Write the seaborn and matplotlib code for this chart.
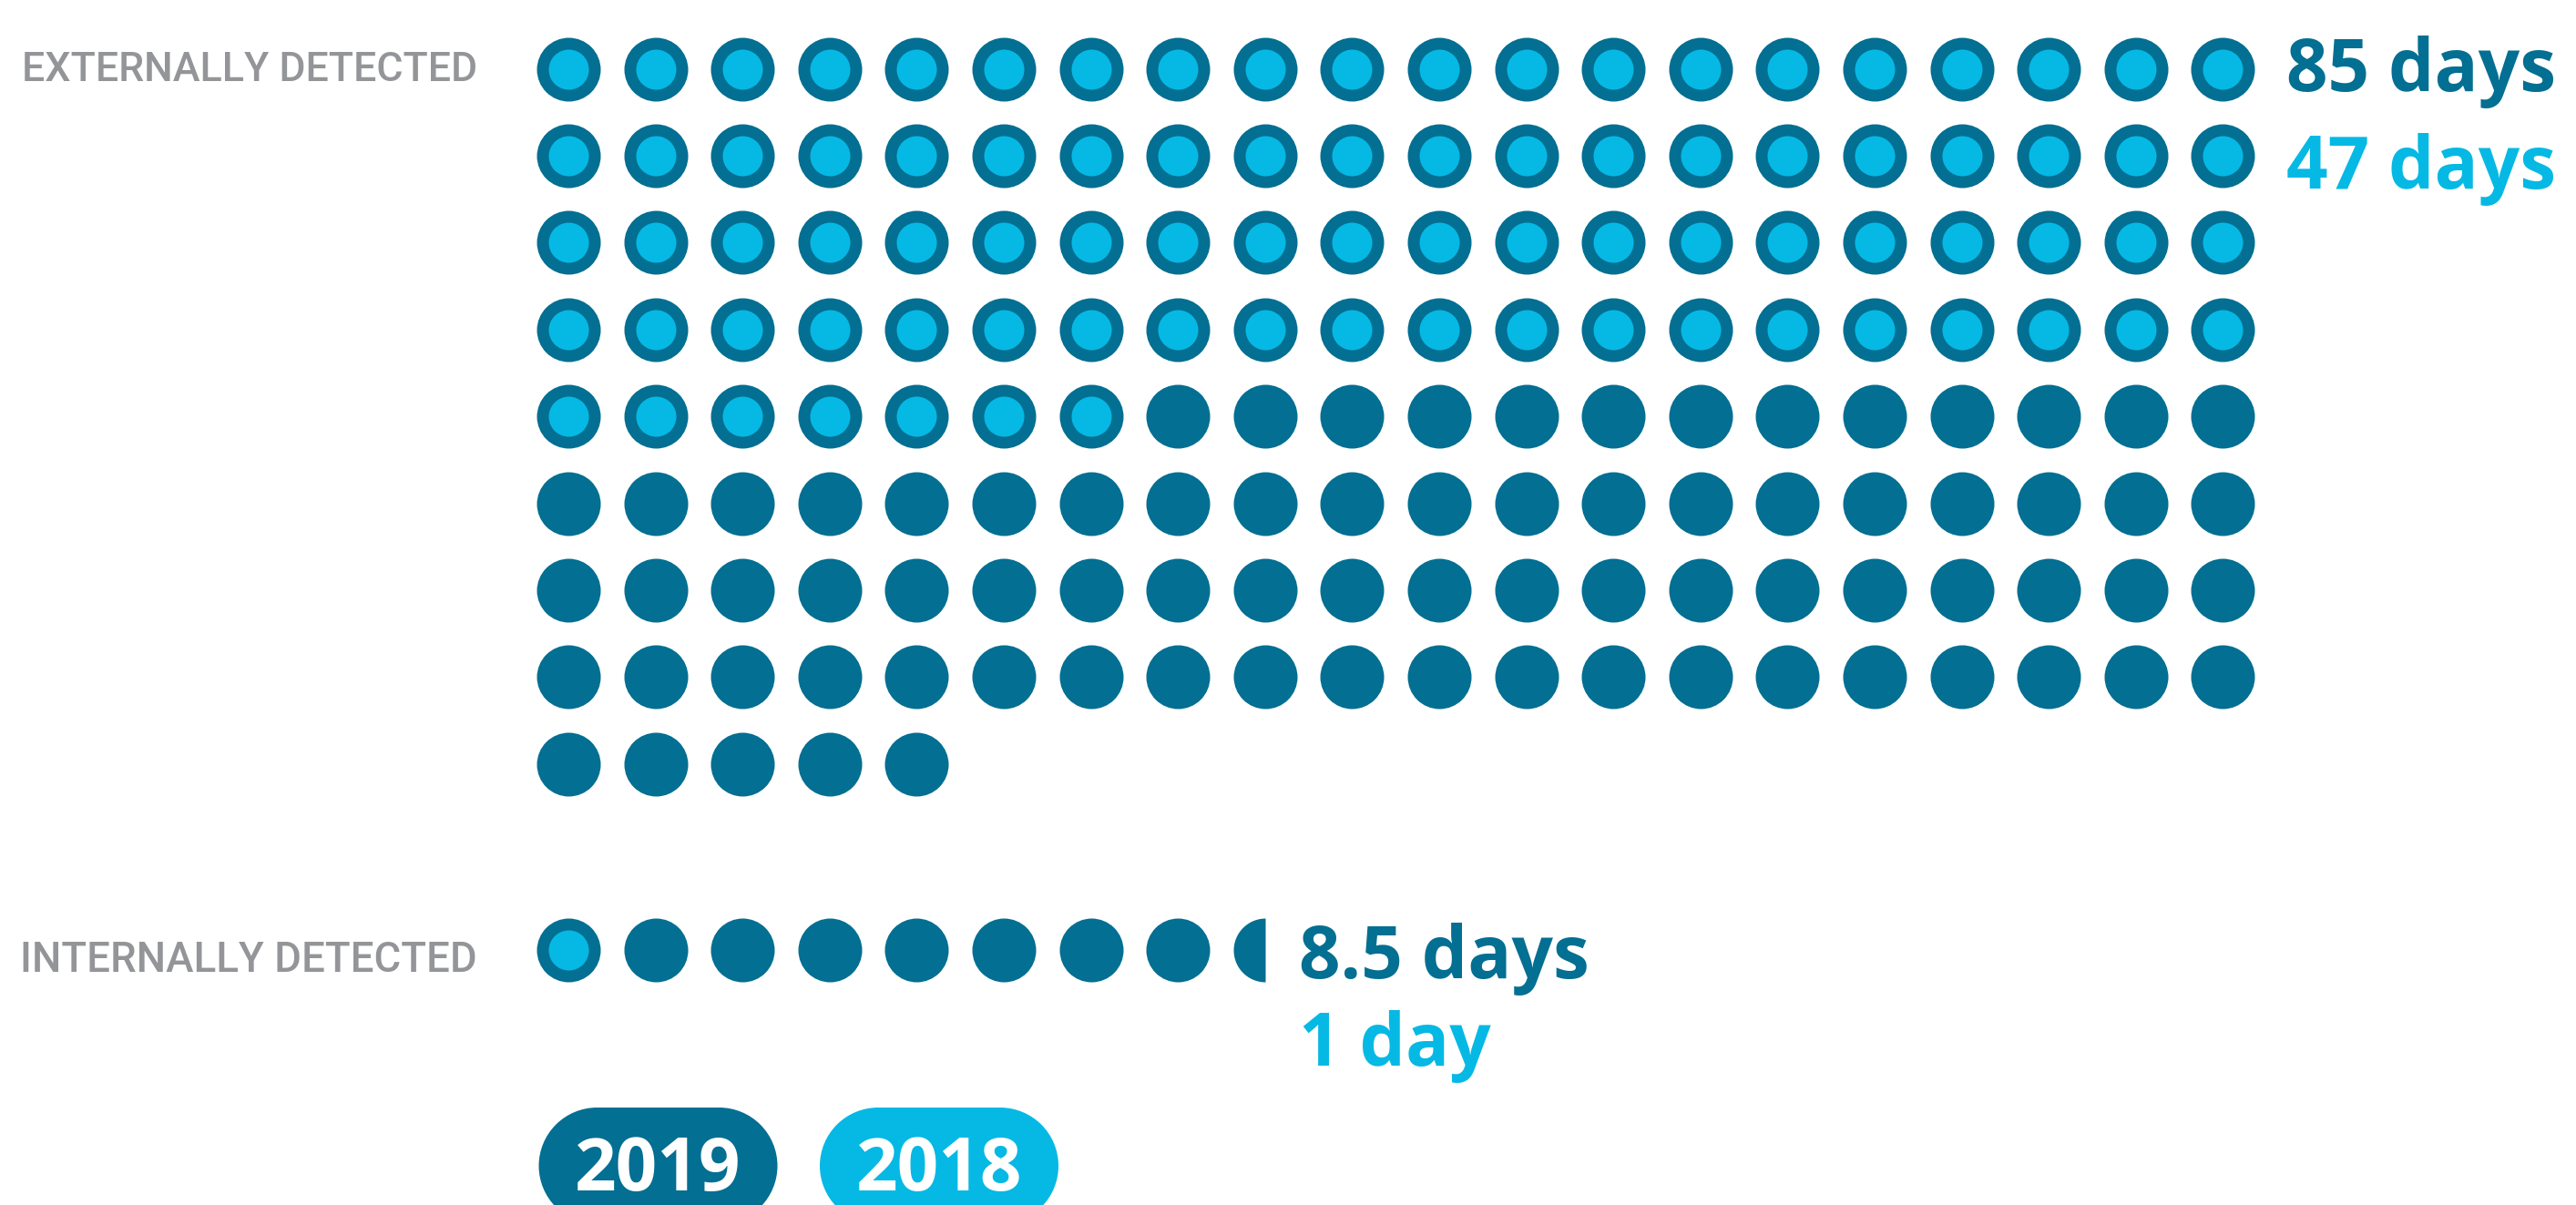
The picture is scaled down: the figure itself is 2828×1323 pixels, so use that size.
import numpy as np
import pandas as pd
import seaborn as sns
import matplotlib.pyplot as plt
from matplotlib.path import Path
from matplotlib.patches import Circle, Rectangle

# dot counts (one dot per unit)
years = ["2019", "2018"]
ext_dots = [165, 87]
int_dots = [8.5, 1]
ext_labels = ["85 days", "47 days"]
int_labels = ["8.5 days", "1 day"]
row_names = ["EXTERNALLY DETECTED", "INTERNALLY DETECTED"]

dark = "#036f92"
light = "#05b9e4"
grey = "#939598"

ncols = 20
x0, dx = 624, 95.6
ext_y0, dy = 75.5, 95.4
int_y0 = 1043

def grid(n, y0):
    idx = np.arange(int(np.floor(n)))
    return pd.DataFrame({"x": x0 + (idx % ncols) * dx, "y": y0 + (idx // ncols) * dy})

sns.set_style("white")
fig = plt.figure(figsize=(28.28, 13.23), dpi=100)
ax = fig.add_axes([0, 0, 1, 1])
ax.set_xlim(0, 2828)
ax.set_ylim(1323, 0)
ax.axis("off")

big = 2540   # ~70 px dot
small = 1005  # ~44 px inner dot

for n, y0 in [(ext_dots[0], ext_y0), (int_dots[0], int_y0)]:
    sns.scatterplot(data=grid(n, y0), x="x", y="y", s=big, color=dark, linewidth=0, ax=ax, legend=False)
for n, y0 in [(ext_dots[1], ext_y0), (int_dots[1], int_y0)]:
    sns.scatterplot(data=grid(n, y0), x="x", y="y", s=small, color=light, linewidth=0, ax=ax, legend=False)

# fractional dot for the internal 2019 value: left half circle
frac = int_dots[0] - np.floor(int_dots[0])
if frac > 0:
    t = np.linspace(np.pi / 2, 3 * np.pi / 2, 60)
    verts = np.column_stack([np.cos(t), np.sin(t)])
    verts = np.vstack([verts, verts[:1]])
    half = Path(verts, closed=True)
    k = int(np.floor(int_dots[0]))
    hd = pd.DataFrame({"x": [x0 + (k % ncols) * dx], "y": [int_y0 + (k // ncols) * dy]})
    sns.scatterplot(data=hd, x="x", y="y", s=big, color=dark, linewidth=0, marker=half, ax=ax, legend=False)

bold = dict(family=["Open Sans", "DejaVu Sans"], fontweight="bold", fontsize=57.5)
ax.text(2510, 100, ext_labels[0], color=dark, va="baseline", ha="left", **bold)
ax.text(2510, 207, ext_labels[1], color=light, va="baseline", ha="left", **bold)
ax.text(1426, 1074, int_labels[0], color=dark, va="baseline", ha="left", **bold)
ax.text(1426, 1170, int_labels[1], color=light, va="baseline", ha="left", **bold)

# row names: grey caps, shrunk to fit the space left of the dots
renderer = fig.canvas.get_renderer()
for name, yc in zip(row_names, [73, 1051]):
    t = ax.text(524, yc, name, va="baseline", ha="right", color=grey,
                family=["Roboto", "DejaVu Sans"], fontweight="medium", fontsize=40)
    w = t.get_window_extent(renderer).width
    fs = 40 * 500 / w
    t.set_fontsize(fs)
    cap = 0.711 * fs * 100 / 72
    t.set_y(yc + cap / 2)

# year badges (pill shapes)
r = 64
for xl, yr, c in zip([591.5, 900], years, [dark, light]):
    w = 262
    yc = 1216 + r
    ax.add_patch(Rectangle((xl + r, 1216), w - 2 * r, 2 * r, facecolor=c, edgecolor="none"))
    ax.add_patch(Circle((xl + r, yc), r, facecolor=c, edgecolor="none"))
    ax.add_patch(Circle((xl + w - r, yc), r, facecolor=c, edgecolor="none"))
    ax.text(xl + w / 2, 1307, yr, color="white", va="baseline", ha="center", **bold)

fig.savefig("out.png", dpi=100, facecolor="white")
